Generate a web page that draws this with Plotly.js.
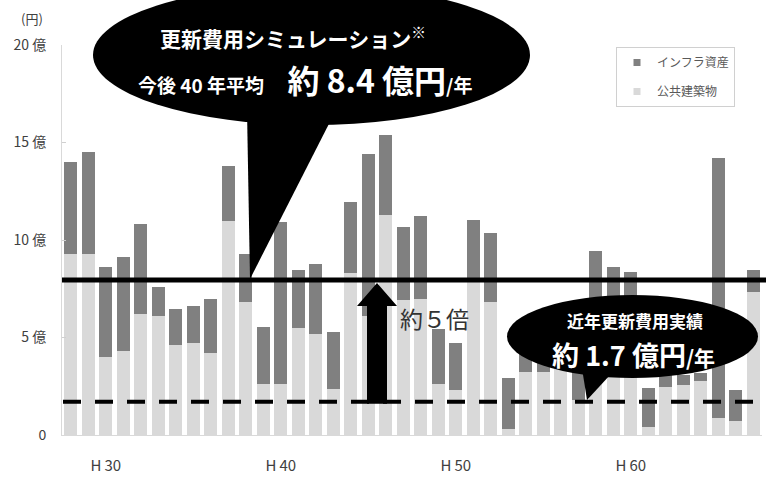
<!DOCTYPE html>
<html><head><meta charset="utf-8">
<script src="https://cdn.plot.ly/plotly-3.0.1.min.js"></script>
<style>html,body{margin:0;padding:0;background:#fff}</style>
</head><body><div id="chart" style="width:766px;height:478px"></div>
<script>
// ---- data (億円, 平成年度) ----
const years = [28,29,30,31,32,33,34,35,36,37,38,39,40,41,42,43,44,45,46,47,48,49,50,51,52,53,54,55,56,57,58,59,60,61,62,63,64,65,66,67];
const publicBuildings = [9.3,9.3,4.0,4.3,6.2,6.1,4.6,4.7,4.2,11.0,6.8,2.6,2.6,5.5,5.2,2.35,8.3,6.1,11.3,6.9,7.0,2.6,2.3,7.9,6.8,0.3,3.25,3.25,3.5,1.8,6.5,6.3,6.6,0.4,2.45,2.55,2.75,0.85,0.7,7.35];
const infrastructure = [4.7,5.2,4.6,4.85,4.6,1.47,1.86,1.9,2.77,2.8,2.5,2.92,8.3,2.96,3.57,2.95,3.66,8.3,4.1,3.75,4.25,2.82,2.4,3.13,3.54,2.6,1.0,0.8,0.4,2.5,2.94,2.33,1.74,1.99,0.73,0.53,0.43,13.35,1.6,1.11];
const seriesNames = ['公共建築物','インフラ資産'];
const seriesColors = ['#d9d9d9','#808080'];
const xTickVals = [30,40,50,60];
const xTickText = ['H\u200930','H\u200940','H\u200950','H\u200960'];
const yTickVals = [0,5,10,15,20];
const yTickText = ['0','5 億','10 億','15 億','20 億'];
const simulationAverageLine = 7.95;
const recentAverageLine = 1.7;
const arrowYear = 45.5;

// ---- layout helpers (pixel -> paper) ----
const W = 766, H = 478, ML = 62, MR = 4, MT = 45, MB = 43;
const PW = W - ML - MR, PH = H - MT - MB;
const px = x => (x - ML) / PW;
const py = y => (H - MB - y) / PH;
const pxToX = 40 / PW;
const pyToY = 20 / PH;

const font = '"Noto Sans CJK JP", "Noto Sans", sans-serif';

const traces = [
  {type:'bar', name: seriesNames[0], x: years, y: publicBuildings, showlegend:false,
   marker:{color: seriesColors[0], line:{width:0}}, hoverinfo:'skip'},
  {type:'bar', name: seriesNames[1], x: years, y: infrastructure, showlegend:false,
   marker:{color: seriesColors[1], line:{width:0}}, hoverinfo:'skip'},
  {type:'scatter', mode:'markers', name: seriesNames[1], x:[null], y:[null], legendgroup:'a',
   marker:{symbol:'square', size:7, color: seriesColors[1]}},
  {type:'scatter', mode:'markers', name: seriesNames[0], x:[null], y:[null], legendgroup:'b',
   marker:{symbol:'square', size:7, color: seriesColors[0]}}
];

const sw = 10 * pxToX, hw = 20 * pxToX, hh = 23 * pyToY;
const ab = recentAverageLine - 2 * pyToY, at = simulationAverageLine - 3 * pyToY;
const arrowPath = `M ${arrowYear - sw} ${ab} L ${arrowYear + sw} ${ab} L ${arrowYear + sw} ${at - hh} L ${arrowYear + hw} ${at - hh} L ${arrowYear} ${at} L ${arrowYear - hw} ${at - hh} L ${arrowYear - sw} ${at - hh} Z`;

const shapes = [
  {type:'line', xref:'paper', yref:'y', x0: 0, x1: px(W + 2), y0: simulationAverageLine, y1: simulationAverageLine,
   line:{color:'#000', width:5}, layer:'above'},
  {type:'line', xref:'paper', yref:'y', x0: px(63), x1: px(W + 2), y0: recentAverageLine, y1: recentAverageLine,
   line:{color:'#000', width:4, dash:'18px,14px'}, layer:'above'},
  {type:'path', xref:'x', yref:'y', path: arrowPath, fillcolor:'#000', line:{width:0}, layer:'above'},
  {type:'circle', xref:'paper', yref:'paper', x0: px(93), x1: px(530), y0: py(125), y1: py(-15),
   fillcolor:'#000', line:{width:0}, layer:'above'},
  {type:'path', xref:'paper', yref:'paper',
   path:`M ${px(247)} ${py(110)} L ${px(336)} ${py(110)} L ${px(250)} ${py(279)} Z`,
   fillcolor:'#000', line:{width:0}, layer:'above'},
  {type:'circle', xref:'paper', yref:'paper', x0: px(507), x1: px(758), y0: py(378), y1: py(295),
   fillcolor:'#000', line:{width:0}, layer:'above'},
  {type:'path', xref:'paper', yref:'paper',
   path:`M ${px(581)} ${py(362)} L ${px(622)} ${py(362)} L ${px(587)} ${py(400)} Z`,
   fillcolor:'#000', line:{width:0}, layer:'above'}
];

const ann = (x, y, text, size, color, weight) => ({
  xref:'paper', yref:'paper', x: px(x), y: py(y), xanchor:'center', yanchor:'middle',
  showarrow:false, text, font:{family: font, size, color, weight: weight || 'normal'}
});

const annotations = [
  ann(32, 18, '(円)', 13, '#404040'),
  ann(293, 37, '更新費用シミュレーション<sup>※</sup>', 21, '#fff', 'bold'),
  ann(305, 79, '今後 40 年平均　 <span style="font-size:32px">約 8.4 億円</span>/年', 19, '#fff', 'bold'),
  ann(635, 320, '近年更新費用実績', 17, '#fff', 'bold'),
  ann(633, 354, '<span style="font-size:27px">約 1.7 億円</span>/年', 21, '#fff', 'bold'),
  ann(434, 318, '約５倍', 23, '#333', 'normal')
];

const layout = {
  width: W, height: H,
  margin:{l: ML, r: MR, t: MT, b: MB, pad: 0},
  paper_bgcolor:'#fff', plot_bgcolor:'#fff',
  barmode:'stack', bargap: 0.25,
  font:{family: font, color:'#404040'},
  xaxis:{range:[27.5, 67.5], tickvals: xTickVals, ticktext: xTickText, showgrid:false, zeroline:false,
    showline:true, linecolor:'#d9d9d9', linewidth:1, ticks:'', ticklabelstandoff: 17,
    tickfont:{family: font, size:15, color:'#404040'}, fixedrange:true},
  yaxis:{range:[0, 20], tickvals: yTickVals, ticktext: yTickText, showgrid:false, zeroline:false,
    showline:true, linecolor:'#d9d9d9', linewidth:1, ticks:'inside', ticklen:4, tickcolor:'#d0d0d0',
    ticklabelstandoff: 12, tickfont:{family: font, size:14, color:'#404040'}, fixedrange:true},
  showlegend:true,
  legend:{x: px(616), y: py(47), xanchor:'left', yanchor:'top', traceorder:'grouped', tracegroupgap: 10,
    itemwidth: 30, bordercolor:'#d0d0d0', borderwidth:1, bgcolor:'#fff',
    font:{family: font, size:12, color:'#595959'}},
  shapes, annotations
};

Plotly.newPlot('chart', traces, layout, {displayModeBar:false, staticPlot:true});
</script>
</body></html>
